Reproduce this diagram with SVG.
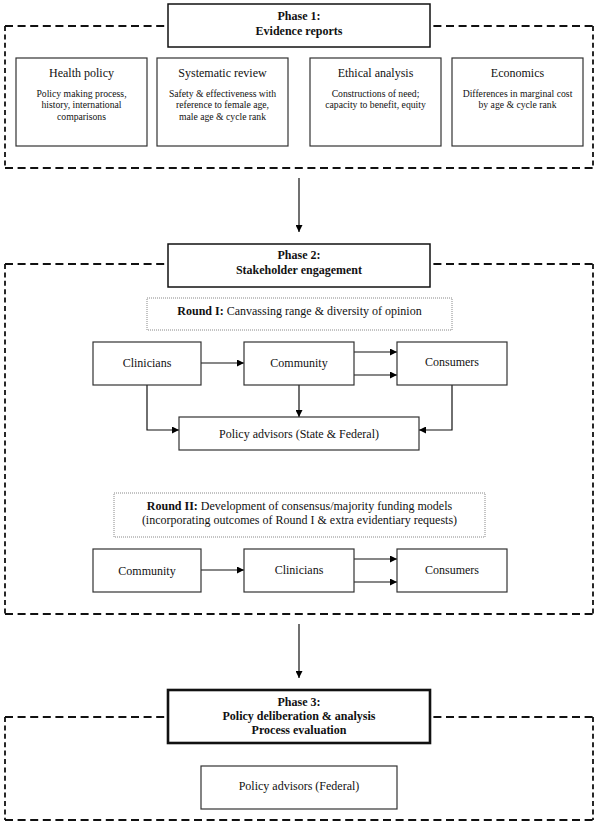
<svg xmlns="http://www.w3.org/2000/svg" width="600" height="825" viewBox="0 0 600 825">
<defs>
<marker id="ah" viewBox="0 0 10 10" refX="10" refY="5" markerWidth="7" markerHeight="7" markerUnits="userSpaceOnUse" orient="auto">
<path d="M0,0 L10,5 L0,10 z" fill="#000"/>
</marker>
<style>
.dh{fill:none;stroke:#111;stroke-width:1.8;stroke-dasharray:8,4.6}
.dv{fill:none;stroke:#111;stroke-width:1.8;stroke-dasharray:5,3.4}
.ph{fill:#fff;stroke:#111;stroke-width:1.5}
.ph3{fill:#fff;stroke:#111;stroke-width:2.6}
.nd{fill:#fff;stroke:#333;stroke-width:1.2}
.rd{fill:#fff;stroke:#888;stroke-width:1;stroke-dasharray:1,1}
.cn{fill:none;stroke:#111;stroke-width:1.2;marker-end:url(#ah)}
text{font-family:"Liberation Serif","Times New Roman",serif;fill:#111;text-anchor:middle}
.b{font-weight:bold;font-size:12px}
.t{font-size:12px}
.s{font-size:9.7px}
</style>
</defs>

<g id="frame1">
<path class="dh" d="M5,26 H593 M5,168 H593"/>
<path class="dv" d="M5,26 V168 M593,26 V168"/>
</g>
<g id="frame2">
<path class="dh" d="M5,264 H593 M5,614 H593"/>
<path class="dv" d="M5,264 V614 M593,264 V614"/>
</g>
<g id="frame3">
<path class="dh" d="M5,717 H593 M5,820 H593"/>
<path class="dv" d="M5,717 V820 M593,717 V820"/>
</g>

<g id="connectors">
<line class="cn" x1="299" y1="178" x2="299" y2="232"/>
<line class="cn" x1="299" y1="624" x2="299" y2="678"/>
<line class="cn" x1="201" y1="363" x2="244" y2="363"/>
<line class="cn" x1="354" y1="352" x2="397" y2="352"/>
<line class="cn" x1="354" y1="375" x2="397" y2="375"/>
<line class="cn" x1="299" y1="385" x2="299" y2="417"/>
<path class="cn" d="M147,385 V430 H179"/>
<path class="cn" d="M452,385 V430 H419"/>
<line class="cn" x1="201" y1="570" x2="244" y2="570"/>
<line class="cn" x1="354" y1="559" x2="397" y2="559"/>
<line class="cn" x1="354" y1="582" x2="397" y2="582"/>
</g>

<g id="phase1">
<rect class="ph" x="168" y="4" width="262" height="43"/>
<text class="b" x="299" y="20">Phase 1:</text>
<text class="b" x="299" y="34.5">Evidence reports</text>
</g>
<g id="health-policy">
<rect class="nd" x="16" y="58" width="131" height="88"/>
<text class="t" x="81.5" y="77">Health policy</text>
<text class="s" x="81.5" y="97">Policy making process,</text>
<text class="s" x="81.5" y="108.3">history, international</text>
<text class="s" x="81.5" y="119.6">comparisons</text>
</g>
<g id="systematic-review">
<rect class="nd" x="157" y="58" width="131" height="88"/>
<text class="t" x="222.5" y="77">Systematic review</text>
<text class="s" x="222.5" y="97">Safety &amp; effectiveness with</text>
<text class="s" x="222.5" y="108.3">reference to female age,</text>
<text class="s" x="222.5" y="119.6">male age &amp; cycle rank</text>
</g>
<g id="ethical-analysis">
<rect class="nd" x="310" y="58" width="131" height="88"/>
<text class="t" x="375.5" y="77">Ethical analysis</text>
<text class="s" x="375.5" y="97">Constructions of need;</text>
<text class="s" x="375.5" y="108.3">capacity to benefit, equity</text>
</g>
<g id="economics">
<rect class="nd" x="452" y="58" width="131" height="88"/>
<text class="t" x="517.5" y="77">Economics</text>
<text class="s" x="517.5" y="97">Differences in marginal cost</text>
<text class="s" x="517.5" y="108.3">by age &amp; cycle rank</text>
</g>

<g id="phase2">
<rect class="ph" x="168" y="244" width="262" height="43"/>
<text class="b" x="299" y="259">Phase 2:</text>
<text class="b" x="299" y="273.5">Stakeholder engagement</text>
</g>
<g id="round1">
<rect class="rd" x="147" y="298" width="305" height="32"/>
<text class="t" x="299.5" y="315"><tspan font-weight="bold">Round I:</tspan> Canvassing range &amp; diversity of opinion</text>
</g>
<g id="clinicians1">
<rect class="nd" x="93" y="342" width="108" height="43"/>
<text class="t" x="147" y="367">Clinicians</text>
</g>
<g id="community1">
<rect class="nd" x="244" y="342" width="110" height="43"/>
<text class="t" x="299" y="367">Community</text>
</g>
<g id="consumers1">
<rect class="nd" x="397" y="342" width="110" height="43"/>
<text class="t" x="452" y="366">Consumers</text>
</g>
<g id="policy-state-federal">
<rect class="nd" x="179" y="417" width="240" height="33"/>
<text class="t" x="299" y="437.5">Policy advisors (State &amp; Federal)</text>
</g>
<g id="round2">
<rect class="rd" x="114" y="493" width="371" height="44"/>
<text class="t" x="299.5" y="509.5"><tspan font-weight="bold">Round II:</tspan> Development of consensus/majority funding models</text>
<text class="t" x="299.5" y="524">(incorporating outcomes of Round I &amp; extra evidentiary requests)</text>
</g>
<g id="community2">
<rect class="nd" x="93" y="549" width="108" height="43"/>
<text class="t" x="147" y="574.5">Community</text>
</g>
<g id="clinicians2">
<rect class="nd" x="244" y="549" width="110" height="43"/>
<text class="t" x="299" y="574">Clinicians</text>
</g>
<g id="consumers2">
<rect class="nd" x="397" y="549" width="110" height="43"/>
<text class="t" x="452" y="574">Consumers</text>
</g>

<g id="phase3">
<rect class="ph3" x="168" y="690" width="262" height="53"/>
<text class="b" x="299" y="706">Phase 3:</text>
<text class="b" x="299" y="720">Policy deliberation &amp; analysis</text>
<text class="b" x="299" y="734">Process evaluation</text>
</g>
<g id="policy-federal">
<rect class="nd" x="201" y="766" width="196" height="43"/>
<text class="t" x="299" y="790">Policy advisors (Federal)</text>
</g>
</svg>
